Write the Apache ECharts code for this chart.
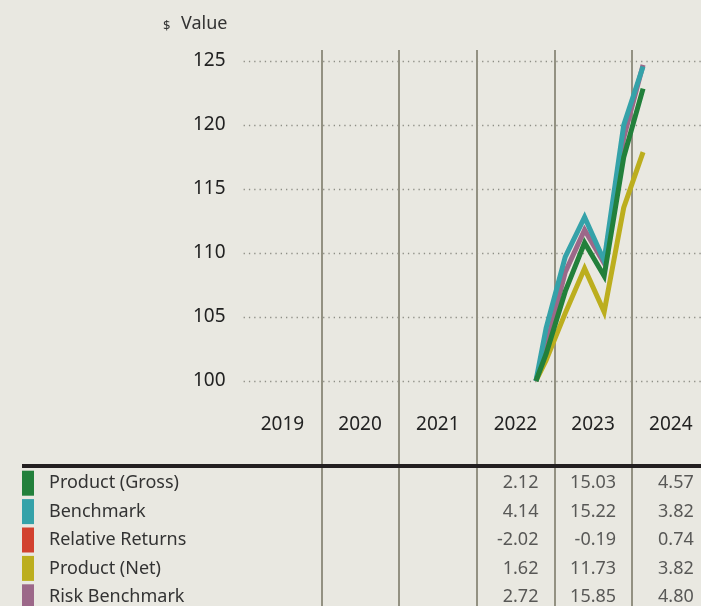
<!DOCTYPE html>
<html>
<head>
<meta charset="utf-8">
<script src="https://cdn.jsdelivr.net/npm/echarts@6/dist/echarts.min.js"></script>
<style>
  html, body { margin: 0; padding: 0; background: #e9e8e1; }
  #chart { width: 701px; height: 606px; }
</style>
</head>
<body>
<div id="chart"></div>
<script>
var YEARS = ["2019", "2020", "2021", "2022", "2023", "2024"];
var DATES = ["2022-11-13", "2022-12-31", "2023-03-31", "2023-06-30", "2023-09-30", "2023-12-31", "2024-03-31"];
var GROSS = [100, 102.12, 107.0, 110.8, 108.2, 117.47, 122.84];
var BENCH = [100, 104.14, 109.7, 112.8, 109.4, 119.99, 124.57];
var NET = [100, 101.62, 105.3, 108.8, 105.4, 113.54, 117.88];
var RISK = [100, 102.72, 108.5, 111.8, 109.2, 119.0, 124.7];

var ROWS = ["Product (Gross)", "Benchmark", "Relative Returns", "Product (Net)", "Risk Benchmark"];
var ROW_COLORS = ["#22803b", "#35a2a9", "#d2412f", "#bcae1e", "#9c6889"];
var RET_2022 = [2.12, 4.14, -2.02, 1.62, 2.72];
var RET_2023 = [15.03, 15.22, -0.19, 11.73, 15.85];
var RET_2024 = [4.57, 3.82, 0.74, 3.82, 4.80];

var FONT = "'Noto Sans', 'Open Sans', sans-serif";
var GRID_LEFT = 243.6, GRID_W = 466;

function pairs(vals) {
  return DATES.map(function(d, i) { return [d, vals[i]]; });
}

function lineSeries(name, vals, color) {
  return {
    name: name, type: "line", xAxisIndex: 0, yAxisIndex: 0,
    data: pairs(vals), symbol: "none", silent: true,
    lineStyle: { color: color, width: 5, join: "miter", cap: "butt" }
  };
}

var tableData = [];
ROWS.forEach(function(r, i) {
  tableData.push(["2022", r, RET_2022[i]]);
  tableData.push(["2023", r, RET_2023[i]]);
  tableData.push(["2024", r, RET_2024[i]]);
});

var rich = { t: { fontFamily: FONT, fontSize: 18, color: "#333", padding: [0, 0, 0, 15] } };
ROW_COLORS.forEach(function(c, i) {
  rich["s" + i] = { backgroundColor: c, width: 12, height: 25 };
});

var chart = echarts.init(document.getElementById("chart"));
chart.setOption({
  backgroundColor: "#e9e8e1",
  animation: false,
  textStyle: { fontFamily: FONT },
  grid: [
    { left: GRID_LEFT, width: GRID_W, top: 61, height: 320, outerBoundsMode: "none" },
    { left: GRID_LEFT, width: GRID_W, top: 50, height: 560, outerBoundsMode: "none" },
    { left: GRID_LEFT, width: GRID_W, top: 469, height: 142, outerBoundsMode: "none" }
  ],
  xAxis: [
    { type: "time", gridIndex: 0, min: "2019-02-07", max: "2025-02-07", show: false },
    { type: "category", gridIndex: 0, data: YEARS, position: "bottom",
      axisLine: { show: false }, axisTick: { show: false }, splitLine: { show: false },
      axisLabel: { fontFamily: FONT, fontSize: 19, color: "#222", margin: 34 } },
    { type: "category", gridIndex: 1, data: YEARS,
      axisLine: { show: false }, axisTick: { show: false }, axisLabel: { show: false },
      splitLine: { show: true, interval: function(idx) { return idx > 0; },
                   lineStyle: { color: "#939182", width: 2 } } },
    { type: "category", gridIndex: 2, data: YEARS, show: false }
  ],
  yAxis: [
    { type: "value", gridIndex: 0, min: 100, max: 125, interval: 5,
      axisLine: { show: false }, axisTick: { show: false },
      axisLabel: { fontFamily: FONT, fontSize: 19, color: "#222", margin: 18 },
      splitLine: { lineStyle: { color: "#8e8e86", width: 1.3, type: [1.3, 4] } } },
    { type: "value", gridIndex: 1, show: false, splitLine: { show: false } },
    { type: "category", gridIndex: 2, data: ROWS, inverse: true,
      axisLine: { show: false }, axisTick: { show: false },
      axisLabel: { align: "left", margin: GRID_LEFT - 22,
        formatter: function(v, i) { return "{s" + i + "|}{t|" + v + "}"; },
        rich: rich } }
  ],
  series: [
    lineSeries("Product (Net)", NET, ROW_COLORS[3]),
    lineSeries("Risk Benchmark", RISK, ROW_COLORS[4]),
    lineSeries("Benchmark", BENCH, ROW_COLORS[1]),
    lineSeries("Product (Gross)", GROSS, ROW_COLORS[0]),
    { type: "scatter", xAxisIndex: 3, yAxisIndex: 2, data: tableData,
      symbolSize: 1, silent: true, itemStyle: { color: "transparent" },
      label: { show: true, position: "inside", align: "right", offset: [23, 0],
        fontFamily: FONT, fontSize: 18, color: "#333",
        formatter: function(p) { return p.value[2].toFixed(2); } } }
  ],
  graphic: [
    { type: "text", left: 163, top: 20, z: 10,
      style: { text: "$", fontFamily: FONT, fontSize: 13, fill: "#333" } },
    { type: "text", left: 181, top: 15, z: 10,
      style: { text: "Value", fontFamily: FONT, fontSize: 18, fill: "#333" } },
    { type: "rect", z: 10, shape: { x: 22, y: 464, width: 679, height: 4 },
      style: { fill: "#231f20" } }
  ]
});
</script>
</body>
</html>
